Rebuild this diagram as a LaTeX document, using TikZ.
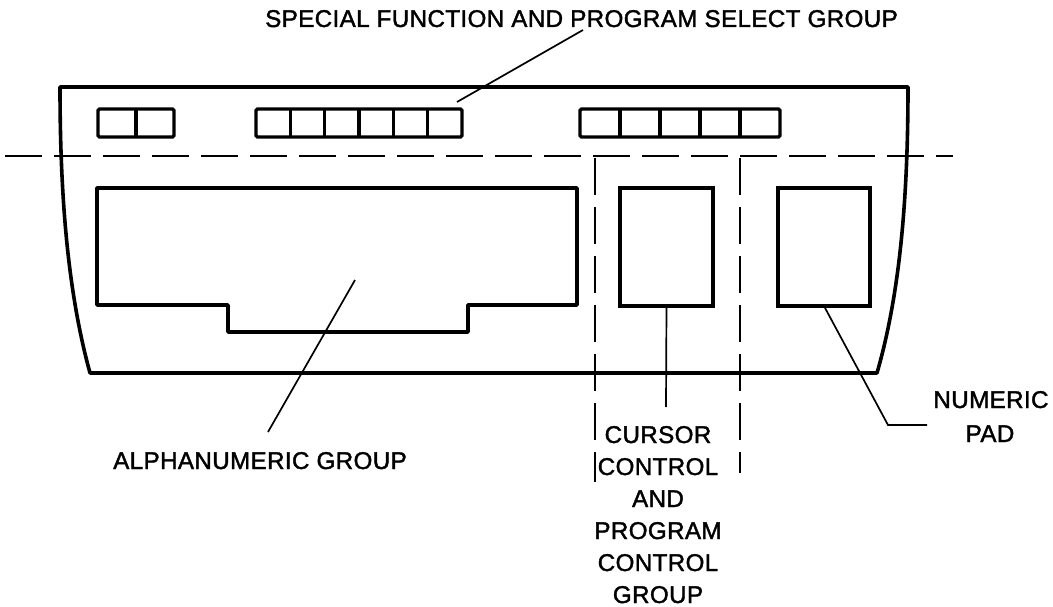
\documentclass[tikz,border=0pt]{standalone}
\usepackage{fontspec}
\setmainfont{Liberation Sans}
\newfontfamily\lblfont{Liberation Sans}[FakeBold=1.6, LetterSpace=1.5]
\begin{document}
\begin{tikzpicture}[x=1pt,y=-1pt,
  outline/.style={line width=3.6pt, line join=round},
  keyrow/.style={line width=3.2pt, rounded corners=1.5pt},
  keysep/.style={line width=3.2pt},
  boxshape/.style={draw, line width=3.6pt, inner sep=0pt, outer sep=0pt},
  leader/.style={line width=1.7pt},
  sectdash/.style={line width=1.9pt, dash pattern=on 37pt off 12pt},
  lbl/.style={font=\lblfont\fontsize{24.2}{29}\selectfont, inner sep=0pt, anchor=base}]
\useasboundingbox (0,0) rectangle (1053,607);

% keyboard outline
\draw[outline] (60,87) -- (908,87) .. controls (908,210) and (898,300) .. (877,373)
  -- (90,373) .. controls (70,300) and (60,210) .. (60,87) -- cycle;

% special function keys
\draw[keyrow] (98,109) rectangle (174,137);
\draw[keysep] (136,109) -- (136,137);
\draw[keyrow] (256,109) rectangle (462,137);
\foreach \i in {1,...,5} \draw[keysep] ({256+\i*34.33},109) -- ({256+\i*34.33},137);
\draw[keyrow] (580,109) rectangle (780,137);
\foreach \i in {1,...,4} \draw[keysep] ({580+\i*40},109) -- ({580+\i*40},137);

% dashed division lines
\draw[sectdash] (5,156) -- (953,156);
\draw[sectdash] (595,158) -- (595,482);
\draw[sectdash] (740,158) -- (740,473);

% alphanumeric group
\draw[outline] (97,188) -- (577,188) -- (577,305) -- (468,305) -- (468,332)
  -- (228,332) -- (228,305) -- (97,305) -- cycle;

% cursor and numeric boxes
\node[boxshape, minimum width=93pt, minimum height=118pt] (cursor) at (666.5,247) {};
\node[boxshape, minimum width=92pt, minimum height=118pt] (numpad) at (824,247) {};

% labels
\node[lbl] (title) at (581.5,27) {SPECIAL FUNCTION AND PROGRAM SELECT GROUP};
\node[lbl] (alphalbl) at (260,469) {ALPHANUMERIC GROUP};
\node[lbl] (cur1) at (658,443) {CURSOR};
\node[lbl] (cur2) at (658,475) {CONTROL};
\node[lbl] (cur3) at (658,507) {AND};
\node[lbl] (cur4) at (658,539) {PROGRAM};
\node[lbl] (cur5) at (658,571) {CONTROL};
\node[lbl] (cur6) at (658,603) {GROUP};
\node[lbl] (num1) at (991,408) {NUMERIC};
\node[lbl] (num2) at (990,442) {PAD};

% leader lines
\coordinate (tlead) at (583,30);
\coordinate (tkeys) at (457,102);
\draw[leader] (tlead) -- (tkeys);
\coordinate (alead) at (355,280);
\coordinate (aend) at (268,432);
\draw[leader] (alead) -- (aend);
\coordinate (cend) at (666,407);
\draw[leader] (cursor.south) -- (cend);
\coordinate (nelbow) at (888,425);
\coordinate (nend) at (927,425);
\draw[leader] (numpad.south) -- (nelbow) -- (nend);
\end{tikzpicture}
\end{document}
